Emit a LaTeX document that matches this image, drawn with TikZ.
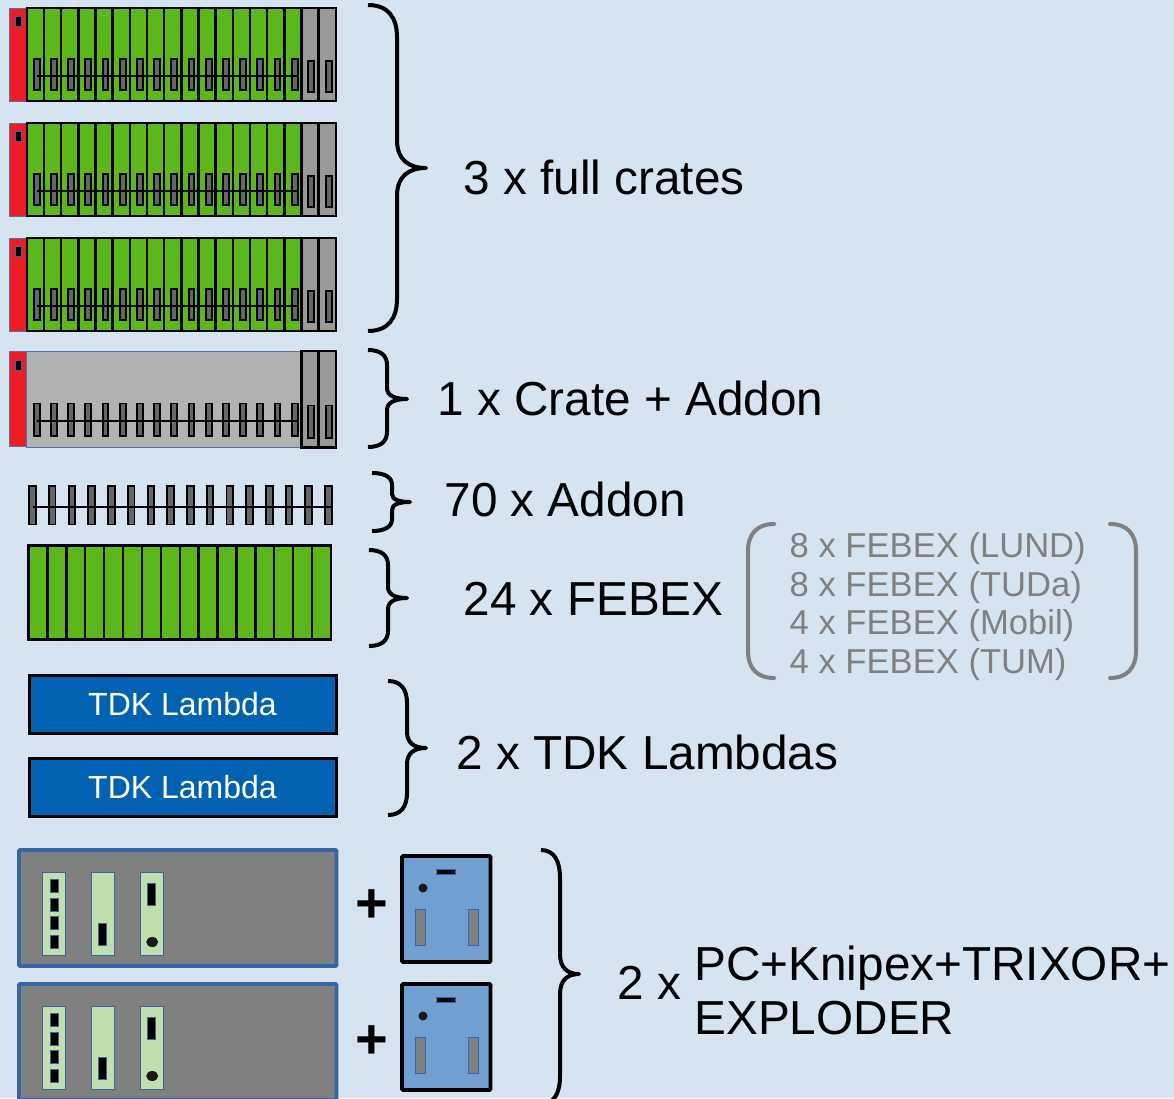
\documentclass[tikz,border=0pt]{standalone}
\usepackage{fontspec}
\setmainfont{Liberation Sans}
\definecolor{bgc}{HTML}{D6E4F2}
\definecolor{febex}{HTML}{5CB71C}
\definecolor{redc}{HTML}{EE1C25}
\definecolor{bluel}{HTML}{4A76A8}
\definecolor{greyc}{HTML}{999999}
\definecolor{addonc}{HTML}{666666}
\definecolor{tdk}{HTML}{0062B1}
\definecolor{pcblue}{HTML}{3465A4}
\definecolor{cardc}{HTML}{C1DFAC}
\definecolor{boxblue}{HTML}{729FD2}
\definecolor{greytxt}{HTML}{808080}
\tikzset{
 cell/.style={fill=febex,draw=black,line width=2.4pt},
 sidecell/.style={fill=greyc,draw=black,line width=2.4pt},
 slot/.style={fill=addonc,draw=black,line width=1.9pt},
 bus/.style={draw=black,line width=2pt},
 redbox/.style={fill=redc,draw=bluel,line width=1pt},
 hole/.style={fill=black,draw=pcblue,line width=0.8pt},
 brace/.style={draw=black,line width=4pt,line join=round},
 bigtxt/.style={anchor=base west,inner sep=0pt,font=\fontsize{47.7}{47.7}\selectfont},
 greytx/.style={anchor=base west,inner sep=0pt,text=greytxt,font=\fontsize{34.6}{34.6}\selectfont},
 tdkbox/.style={fill=tdk,draw=black,line width=3pt,text=white,font=\fontsize{32}{32}\selectfont,anchor=center,minimum width=307pt,minimum height=58pt,inner sep=0pt},
 card/.style={fill=cardc,draw=pcblue,line width=1pt},
 pcbox/.style={fill=gray,draw=pcblue,line width=3.6pt,rounded corners=1pt},
 psbox/.style={fill=boxblue,draw=black,line width=3.6pt,rounded corners=1pt},
 psslot/.style={fill=gray,draw=pcblue,line width=0.8pt},
 plusmark/.style={anchor=center,inner sep=0pt,font=\fontsize{56}{56}\selectfont\bfseries},
 bracket/.style={draw=gray,line width=4pt,line cap=round},
}
\newcommand{\slotsrow}[2]{%
  \foreach \i in {0,...,15}{\draw[slot] ({33.8+17.2*\i},#1) rectangle ({39.6+17.2*\i},#2);}
}
\newcommand{\sidecards}[2]{%
  \draw[slot] (308,#1) rectangle (314.2,#2);
  \draw[slot] (325.8,#1) rectangle (331.8,#2);
}
\newcommand{\fullcrate}[1]{%
 \begin{scope}[shift={(0,#1)}]
  \draw[redbox] (9.7,8) rectangle (26,101);
  \draw[hole] (15.5,16.5) rectangle (21.5,26.5);
  \foreach \i in {0,...,15}{\draw[cell] ({26.8+17.17*\i},8) rectangle ({26.8+17.17*(\i+1)},101);}
  \draw[sidecell] (301.5,8) rectangle (318.5,101);
  \draw[sidecell] (318.5,8) rectangle (336,101);
  \slotsrow{59}{90.3}
  \sidecards{61}{92.3}
  \draw[bus] (37,76) -- (298,76);
 \end{scope}
}
% xl xm xr ytop ytip ybot, end radius, tip radius
\newcommand{\bracepath}[8]{%
  \draw[brace] (#1,#4) .. controls ({#2-0.3*(#2-#1)},#4) and (#2,{#4+0.4*#7}) .. (#2,{#4+#7})
    -- (#2,{#5-#8}) .. controls (#2,{#5-0.3*#8}) and ({#2+0.4*(#3-#2)},#5) .. (#3,#5)
    .. controls ({#2+0.4*(#3-#2)},#5) and (#2,{#5+0.3*#8}) .. (#2,{#5+#8})
    -- (#2,{#6-#7}) .. controls (#2,{#6-0.4*#7}) and ({#2-0.3*(#2-#1)},#6) .. (#1,#6);
}
\newcommand{\pcunit}[2]{%
 \begin{scope}[shift={(0,#1)}]
  \draw[pcbox] (19,850) rectangle (336.5,966);
  \draw[card] (42.7,872.5) rectangle (65.5,955.5);
  \draw[card] (91,872.5) rectangle (114,955.5);
  \draw[card] (140,872.5) rectangle (163,955.5);
  \foreach \y in {879.5,898,916.5,935}{\draw[hole] (50.5,\y) rectangle (58,{\y+13});}
  \draw[hole] (98.7,923.5) rectangle (106.5,945);
  \draw[hole] (147.5,883) rectangle (155,905);
  \fill[black!90] (152.2,942) ellipse (6pt and 5pt);
 \end{scope}
 \begin{scope}[shift={(0,#2)}]
  \draw[psbox] (402,856) rectangle (490.5,962);
  \draw[hole] (436,869) rectangle (455.5,874.5);
  \fill[black!90] (423,888) circle (4.5pt);
  \draw[psslot] (415.5,909) rectangle (425.5,945);
  \draw[psslot] (468.5,909) rectangle (478.5,945);
 \end{scope}
}
\begin{document}
\begin{tikzpicture}[x=1pt,y=-1pt]
\useasboundingbox (0,0) rectangle (1174,1098);
\clip (0,0) rectangle (1174,1098);
\fill[bgc] (0,0) rectangle (1174,1098);

% full crates
\fullcrate{0}
\fullcrate{115}
\fullcrate{230}
\bracepath{368}{397}{426}{5}{168}{331}{32}{28}
\node[bigtxt] (tfull) at (463.3,194) {3 x full crates};

% crate + addon
\draw[fill=black!30!white,draw=bluel,line width=1pt] (26,351) rectangle (301,447);
\draw[redbox] (9.7,351) rectangle (26.5,446.5);
\draw[hole] (15.5,360) rectangle (21.5,370.5);
\draw[sidecell] (301.5,351) rectangle (318.5,447.5);
\draw[sidecell] (318.5,351) rectangle (336,447.5);
\slotsrow{403.5}{436.3}
\sidecards{405.5}{437.8}
\draw[bus] (37,420.5) -- (298,420.5);
\bracepath{368}{387}{407}{350}{399}{447}{15}{11}
\node[bigtxt] (tcrate) at (437.3,415) {1 x Crate + Addon};

% addon
\foreach \i in {0,...,15}{\draw[slot] ({29.2+19.73*\i},486) rectangle ({35.8+19.73*\i},524.5);}
\draw[bus] (33,506.5) -- (332,506.5);
\bracepath{372}{392}{410}{473}{502}{531}{12}{8}
\node[bigtxt] (taddon) at (444.3,516) {70 x Addon};

% febex
\foreach \i in {0,...,15}{\draw[cell] ({28.5+18.9*\i},545.5) rectangle ({28.5+18.9*(\i+1)},639.5);}
\bracepath{369}{388}{407}{550}{598}{646}{15}{11}
\node[bigtxt] (tfebex) at (463.5,615) {24 x FEBEX};
\draw[bracket] (774,524) .. controls (757,524) and (748,534) .. (748,551) -- (748,651) .. controls (748,668) and (757,678) .. (774,678);
\draw[bracket] (1110,524) .. controls (1127,524) and (1136,534) .. (1136,551) -- (1136,651) .. controls (1136,668) and (1127,678) .. (1110,678);
\node[greytx] (g1) at (789.5,557) {8 x FEBEX (LUND)};
\node[greytx] (g2) at (789.5,596) {8 x FEBEX (TUDa)};
\node[greytx] (g3) at (789.5,634) {4 x FEBEX (Mobil)};
\node[greytx] (g4) at (789.5,673) {4 x FEBEX (TUM)};

% TDK
\node[tdkbox] (tdka) at (182.5,704) {TDK Lambda};
\node[tdkbox] (tdkb) at (182.5,787) {TDK Lambda};
\bracepath{388}{407}{426}{681}{748}{815}{22}{16}
\node[bigtxt] (ttdk) at (456.3,769) {2 x TDK Lambdas};

% PCs
\pcunit{0}{0}
\pcunit{134}{128}
\node[plusmark] (p1) at (372,906) {+};
\node[plusmark] (p2) at (372,1042) {+};
\bracepath{541}{560}{579}{850}{974}{1104}{28}{20}
\node[bigtxt] (t2x) at (617.3,999) {2 x};
\node[bigtxt] (tpc) at (694.3,980) {PC+Knipex+TRIXOR+};
\node[bigtxt] (texp) at (694.3,1034) {EXPLODER};
\end{tikzpicture}
\end{document}
